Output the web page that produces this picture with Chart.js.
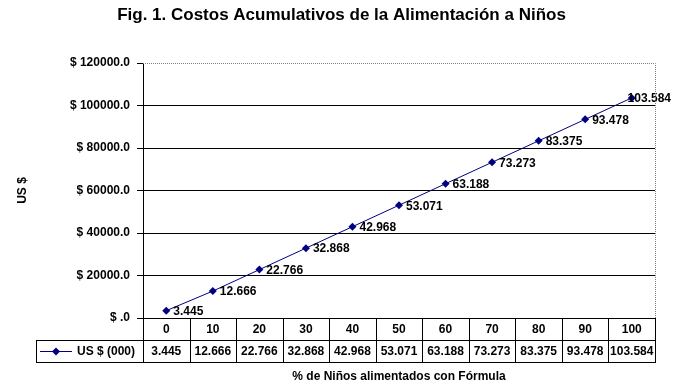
<!DOCTYPE html>
<html>
<head>
<meta charset="utf-8">
<script src="https://cdn.jsdelivr.net/npm/chart.js@4/dist/chart.umd.min.js"></script>
<style>
  body { margin: 0; background: #fff; }
  canvas { display: block; }
</style>
</head>
<body>
<canvas id="chart" width="683" height="387"></canvas>
<script>
const categories = ['0', '10', '20', '30', '40', '50', '60', '70', '80', '90', '100'];
const costs = [3445, 12666, 22766, 32868, 42968, 53071, 63188, 73273, 83375, 93478, 103584];
const yTicks = [0, 20000, 40000, 60000, 80000, 100000, 120000];
const seriesName = 'US $ (000)';
const titleText = 'Fig. 1. Costos Acumulativos de la Alimentación a Niños';
const yTitle = 'US $';
const xTitle = '% de Niños alimentados con Fórmula';

const navy = '#000080';
const font = 'bold 12px "Liberation Sans", Arial, sans-serif';

function fmt(v) {
    return String(v).replace(/\B(?=(\d{3})+(?!\d))/g, '.');
}

function diamond(ctx, x, y, r) {
    ctx.beginPath();
    ctx.moveTo(x, y - r);
    ctx.lineTo(x + r, y);
    ctx.lineTo(x, y + r);
    ctx.lineTo(x - r, y);
    ctx.closePath();
    ctx.fill();
}

// point labels, plot border, data table and axis titles
const excelBits = {
    id: 'excelBits',
    afterDatasetsDraw(chart) {
        const ctx = chart.ctx;
        const meta = chart.getDatasetMeta(0);
        ctx.save();
        ctx.font = font;
        ctx.fillStyle = '#000';
        ctx.textBaseline = 'middle';
        meta.data.forEach((pt, i) => {
            const txt = fmt(costs[i]);
            let x = pt.x + 7;
            const w = ctx.measureText(txt).width;
            if (x + w > 671) x = 671 - w;
            ctx.fillText(txt, x, pt.y + 1);
        });
        ctx.restore();
    },
    afterDraw(chart) {
        const ctx = chart.ctx;
        const area = chart.chartArea;
        const xs = chart.scales.x;
        const half = (xs.getPixelForValue(1) - xs.getPixelForValue(0)) / 2;
        const row1 = area.bottom + 22;
        const row2 = row1 + 22;
        const tableLeft = 36;

        ctx.save();
        // dotted plot border top / right
        ctx.strokeStyle = '#808080';
        ctx.lineWidth = 1;
        ctx.setLineDash([1, 1]);
        ctx.beginPath();
        ctx.moveTo(area.left, area.top + 0.5);
        ctx.lineTo(area.right + 0.5, area.top + 0.5);
        ctx.lineTo(area.right + 0.5, area.bottom);
        ctx.stroke();
        ctx.setLineDash([]);

        // table grid
        ctx.strokeStyle = '#000';
        ctx.beginPath();
        ctx.moveTo(area.left, area.bottom + 0.5);
        ctx.lineTo(area.right + 1, area.bottom + 0.5);
        ctx.moveTo(tableLeft, row1 + 0.5);
        ctx.lineTo(area.right + 1, row1 + 0.5);
        ctx.moveTo(tableLeft, row2 + 0.5);
        ctx.lineTo(area.right + 1, row2 + 0.5);
        ctx.moveTo(tableLeft + 0.5, row1);
        ctx.lineTo(tableLeft + 0.5, row2);
        categories.forEach((c, i) => {
            const bx = Math.round(xs.getPixelForValue(i) - half) + 0.5;
            ctx.moveTo(bx, area.bottom);
            ctx.lineTo(bx, row2);
        });
        ctx.moveTo(Math.round(area.right) + 0.5, area.bottom);
        ctx.lineTo(Math.round(area.right) + 0.5, row2);
        ctx.stroke();

        // table text
        ctx.font = font;
        ctx.fillStyle = '#000';
        ctx.textAlign = 'center';
        ctx.textBaseline = 'middle';
        categories.forEach((c, i) => {
            const cx = xs.getPixelForValue(i);
            ctx.fillText(c, cx, area.bottom + 12);
            ctx.fillText(fmt(costs[i]), cx, row1 + 12);
        });

        // legend key in table
        ctx.strokeStyle = navy;
        ctx.fillStyle = navy;
        ctx.beginPath();
        ctx.moveTo(40, row1 + 11.5);
        ctx.lineTo(72, row1 + 11.5);
        ctx.stroke();
        diamond(ctx, 56, row1 + 11.5, 4);
        ctx.fillStyle = '#000';
        ctx.textAlign = 'left';
        ctx.fillText(seriesName, 77, row1 + 12);

        // axis titles
        ctx.textAlign = 'center';
        ctx.fillText(xTitle, (area.left + area.right) / 2, 377);
        ctx.translate(23, (area.top + area.bottom) / 2);
        ctx.rotate(-Math.PI / 2);
        ctx.fillText(yTitle, 0, 0);
        ctx.restore();
    }
};

new Chart(document.getElementById('chart'), {
    type: 'line',
    data: {
        labels: categories,
        datasets: [{
            label: seriesName,
            data: costs,
            borderColor: navy,
            borderWidth: 1,
            backgroundColor: navy,
            pointStyle: 'rectRot',
            pointRadius: 4,
            pointBorderWidth: 0,
            pointBackgroundColor: navy,
            tension: 0
        }]
    },
    options: {
        responsive: false,
        animation: false,
        devicePixelRatio: 1,
        layout: {padding: 0},
        plugins: {
            legend: {display: false},
            tooltip: {enabled: false},
            title: {
                display: true,
                text: titleText,
                color: '#000',
                font: {family: '"Liberation Sans", Arial, sans-serif', size: 17, weight: 'bold'},
                padding: {top: 5, bottom: 37.6}
            }
        },
        scales: {
            x: {
                type: 'category',
                offset: true,
                grid: {display: false},
                border: {display: false},
                ticks: {display: false},
                afterFit(scale) { scale.height = 69; }
            },
            y: {
                min: 0,
                max: 120000,
                afterBuildTicks(scale) { scale.ticks = yTicks.map(v => ({value: v})); },
                afterFit(scale) { scale.width = 143; },
                border: {color: '#000', width: 1},
                grid: {
                    color: c => c.tick && c.tick.value === 120000 ? 'rgba(0,0,0,0)' : '#000',
                    tickColor: '#000',
                    tickLength: 6,
                    lineWidth: 1
                },
                ticks: {
                    color: '#000',
                    padding: 7,
                    font: {family: '"Liberation Sans", Arial, sans-serif', size: 12, weight: 'bold'},
                    callback: v => '$ ' + (v === 0 ? '' : v) + '.0'
                }
            },
            // empty right-hand strip so the title stays centred on the page
            yRight: {
                position: 'right',
                min: 0,
                max: 120000,
                grid: {display: false},
                border: {display: false},
                ticks: {display: false},
                afterFit(scale) { scale.width = 28; }
            }
        }
    },
    plugins: [excelBits]
});
</script>
</body>
</html>
